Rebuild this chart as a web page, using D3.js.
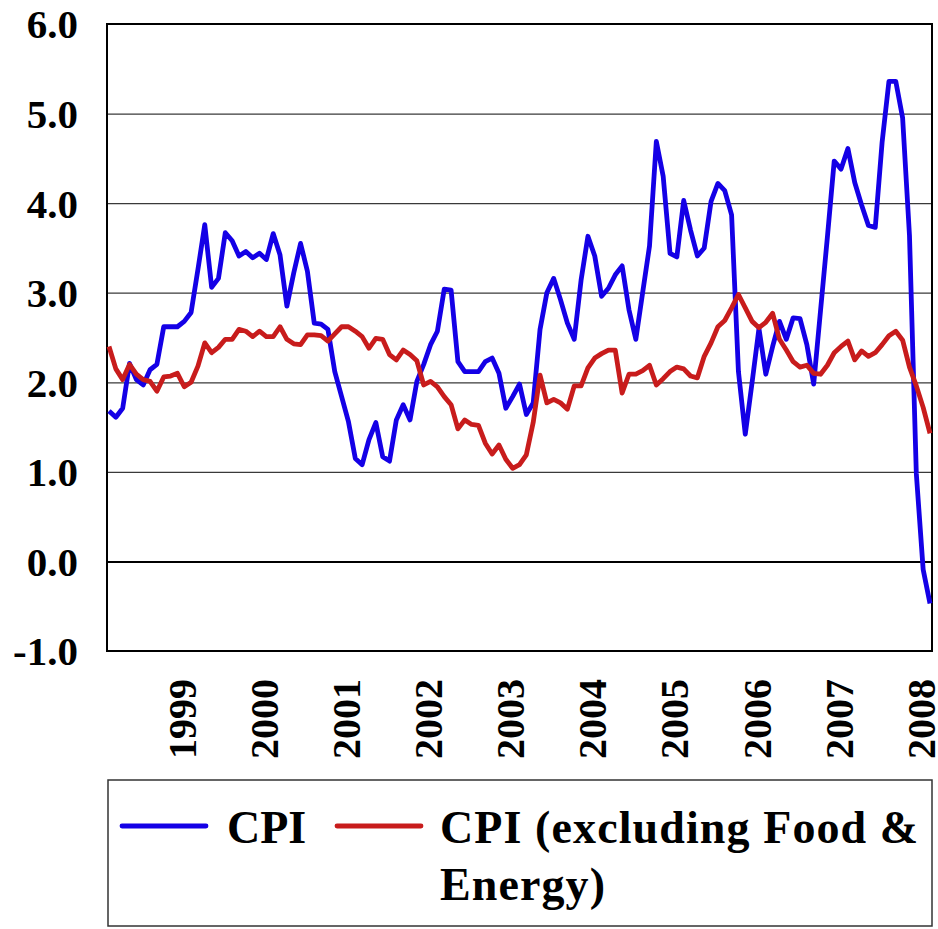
<!DOCTYPE html>
<html>
<head>
<meta charset="utf-8">
<script src="https://cdn.jsdelivr.net/npm/d3@7"></script>
<style>
    body { margin: 0; background: #fff; }
    svg text { font-family: "Liberation Serif", "DejaVu Serif", serif; font-weight: bold; fill: #000; }
</style>
</head>
<body>
<svg class="cpi-chart" width="938" height="929"></svg>
<script>
// Monthly year-on-year inflation (index 0 = first month)
const cpi = [
    1.68, 1.61, 1.71, 2.21, 2.03, 1.97, 2.14, 2.20, 2.62, 2.62,
    2.62, 2.68, 2.78, 3.26, 3.76, 3.06, 3.16, 3.67, 3.58, 3.41,
    3.46, 3.39, 3.44, 3.37, 3.66, 3.42, 2.85, 3.22, 3.55, 3.24,
    2.66, 2.65, 2.59, 2.12, 1.84, 1.56, 1.15, 1.08, 1.36, 1.55,
    1.17, 1.12, 1.58, 1.75, 1.58, 2.01, 2.20, 2.42, 2.57, 3.04,
    3.03, 2.23, 2.12, 2.12, 2.12, 2.23, 2.27, 2.10, 1.71, 1.84,
    1.98, 1.64, 1.77, 2.59, 3.00, 3.16, 2.92, 2.66, 2.48, 3.14,
    3.63, 3.41, 2.96, 3.05, 3.20, 3.30, 2.81, 2.48, 3.00, 3.52,
    4.69, 4.30, 3.44, 3.40, 4.03, 3.70, 3.41, 3.50, 4.02, 4.22,
    4.14, 3.87, 2.12, 1.42, 2.00, 2.60, 2.09, 2.40, 2.68, 2.48,
    2.72, 2.71, 2.42, 1.98, 2.80, 3.62, 4.47, 4.38, 4.61, 4.23,
    3.98, 3.75, 3.73, 4.68, 5.36, 5.36, 4.95, 3.64, 0.98, -0.09, -0.47
];
const cpiCore = [
    2.40, 2.15, 2.03, 2.20, 2.09, 2.03, 2.01, 1.90, 2.06, 2.07,
    2.10, 1.95, 2.00, 2.18, 2.44, 2.33, 2.39, 2.48, 2.48, 2.59,
    2.57, 2.51, 2.57, 2.51, 2.51, 2.62, 2.48, 2.43, 2.42, 2.53,
    2.53, 2.52, 2.46, 2.54, 2.62, 2.62, 2.57, 2.51, 2.38, 2.49,
    2.48, 2.31, 2.25, 2.36, 2.31, 2.24, 1.97, 2.01, 1.95, 1.84,
    1.75, 1.48, 1.58, 1.53, 1.52, 1.32, 1.20, 1.30, 1.14, 1.04,
    1.08, 1.19, 1.55, 2.08, 1.77, 1.81, 1.77, 1.70, 1.96, 1.96,
    2.16, 2.27, 2.32, 2.36, 2.36, 1.88, 2.09, 2.09, 2.13, 2.19,
    1.97, 2.04, 2.12, 2.17, 2.15, 2.07, 2.05, 2.29, 2.44, 2.62,
    2.69, 2.83, 2.98, 2.83, 2.68, 2.61, 2.67, 2.77, 2.48, 2.36,
    2.23, 2.17, 2.19, 2.10, 2.09, 2.19, 2.33, 2.40, 2.46, 2.25,
    2.35, 2.29, 2.33, 2.42, 2.52, 2.57, 2.47, 2.17, 1.96, 1.72, 1.43
];

// Category labels and where they sit along the month index
const yearLabels = ['1999', '2000', '2001', '2002', '2003', '2004', '2005', '2006', '2007', '2008'];
const yearLabelIndex = [11, 23, 35, 47, 59, 71, 83, 95, 107, 119];

const yTicks = [-1, 0, 1, 2, 3, 4, 5, 6];
const seriesNames = ['CPI', 'CPI (excluding Food &', 'Energy)'];
const seriesColors = ['#1400e6', '#c81c1c'];

/*  ==============
    CONFIG
    ==============
 */
const plot = { left: 107, top: 24, right: 932, bottom: 651 };

const svg = d3.select('.cpi-chart');

const xScale = d3.scaleLinear()
    .domain([0, cpi.length - 1])
    .range([plot.left + 2, plot.right - 2]);

const yScale = d3.scaleLinear()
    .domain([-1, 6])
    .range([plot.bottom, plot.top]);

/*  ===================
    SVG Construction
    ===================
 */

// y axis: labels plus gridlines across the plot (plain hyphen for the minus, as in the original)
let yAxis = svg.append('g')
    .attr('transform', `translate(${plot.left},0)`)
    .call(d3.axisLeft(yScale)
        .tickValues(yTicks)
        .tickFormat((d) => {return d.toFixed(1);})
        .tickSize(-(plot.right - plot.left))
        .tickPadding(29));
yAxis.select('.domain').remove();
yAxis.selectAll('line')
    .attr('stroke', (d) => {return d === 0 ? '#000' : '#3a3a3a';})
    .attr('stroke-width', (d) => {return d === 0 ? 2 : 1.2;});
yAxis.selectAll('text')
    .attr('font-size', 41)
    .attr('dy', '0.34em');

// plot frame
svg.append('rect')
    .attr('x', plot.left)
    .attr('y', plot.top)
    .attr('width', plot.right - plot.left)
    .attr('height', plot.bottom - plot.top)
    .attr('fill', 'none')
    .attr('stroke', '#000')
    .attr('stroke-width', 2);

// x axis: rotated year labels
svg.append('g')
    .selectAll('text')
    .data(yearLabels)
    .enter()
    .append('text')
    .attr('font-size', 40)
    .attr('text-anchor', 'end')
    .attr('dy', '0.34em')
    .attr('transform', (d, i) => {
        return `translate(${xScale(yearLabelIndex[i]) - 2},${plot.bottom + 28}) rotate(-90)`;
    })
    .text((d) => {return d;});

// the two lines
const line = d3.line()
    .x((d, i) => {return xScale(i);})
    .y((d) => {return yScale(d);});

svg.selectAll('path.series')
    .data([cpi, cpiCore])
    .enter()
    .append('path')
    .attr('class', 'series')
    .attr('fill', 'none')
    .attr('stroke', (d, i) => {return seriesColors[i];})
    .attr('stroke-width', 4.8)
    .attr('stroke-linejoin', 'round')
    .attr('d', line);

/*  Legend */
const legendConfig = { x: 108, y: 780, width: 824, height: 146, sample: 84 };

let legend = svg.append('g')
    .attr('class', 'legend');

legend.append('rect')
    .attr('x', legendConfig.x)
    .attr('y', legendConfig.y)
    .attr('width', legendConfig.width)
    .attr('height', legendConfig.height)
    .attr('fill', '#fff')
    .attr('stroke', '#333')
    .attr('stroke-width', 1.5);

const sampleX = [122, 337];
legend.selectAll('line')
    .data(seriesColors)
    .enter()
    .append('line')
    .attr('x1', (d, i) => {return sampleX[i];})
    .attr('x2', (d, i) => {return sampleX[i] + legendConfig.sample;})
    .attr('y1', 826)
    .attr('y2', 826)
    .attr('stroke', (d) => {return d;})
    .attr('stroke-width', 4.8)
    .attr('stroke-linecap', 'round');

legend.append('text')
    .attr('x', 227)
    .attr('y', 843)
    .attr('font-size', 46)
    .text(seriesNames[0]);

let coreLabel = legend.append('text')
    .attr('x', 440)
    .attr('y', 843)
    .attr('font-size', 46)
    .attr('letter-spacing', 1.1);
coreLabel.append('tspan')
    .attr('x', 440)
    .text(seriesNames[1]);
coreLabel.append('tspan')
    .attr('x', 440)
    .attr('dy', 57)
    .text(seriesNames[2]);
</script>
</body>
</html>
